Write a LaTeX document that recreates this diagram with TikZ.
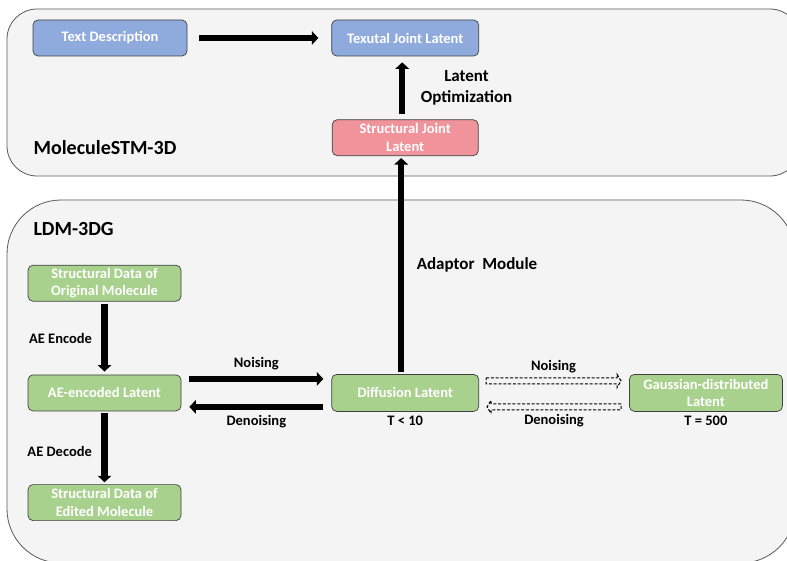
\documentclass[tikz,border=0pt]{standalone}
\usepackage{fontspec}
\setmainfont{Carlito}
\usetikzlibrary{arrows.meta,positioning,calc}
\definecolor{panelfill}{HTML}{F4F4F4}
\definecolor{paneldraw}{HTML}{595959}
\definecolor{nodeblue}{HTML}{8FAADC}
\definecolor{nodepink}{HTML}{F0939B}
\definecolor{nodegreen}{HTML}{A9D18E}
\definecolor{nodedraw}{HTML}{3F3F3F}

\begin{document}
\begin{tikzpicture}[x=1pt, y=-1pt, font=\bfseries\fontsize{14.5}{17.5}\selectfont,
panel/.style={draw=paneldraw, fill=panelfill, line width=0.8pt},
block/.style={draw=nodedraw, line width=0.7pt, rounded corners=5pt, minimum height=36pt, inner sep=1pt, text=white, align=center},
textbox/.style={block, fill=nodeblue, minimum width=147pt},
jointbox/.style={block, fill=nodepink, minimum width=146pt},
latbox/.style={block, fill=nodegreen, minimum width=153pt},
flow/.style={line width=6.5pt, -{Triangle[length=6.5pt,width=13.5pt]}},
hollow/.style={draw=black, line width=1.1pt, dash pattern=on 3pt off 1.8pt},
title/.style={font=\bfseries\fontsize{20}{23}\selectfont, anchor=west},
bigtag/.style={font=\bfseries\fontsize{17}{20.5}\selectfont, align=center}]
\path[use as bounding box, clip] (0,0) rectangle (787,561);
% the two panels
\draw[panel, rounded corners=30pt] (7,9) rectangle (800,176);
\draw[panel, rounded corners=54pt] (7,200) rectangle (795,563);
\node[title] (stm) at (30,148) {MoleculeSTM-3D};
\node[title] (ldm) at (30,229) {LDM-3DG};
% MoleculeSTM-3D part
\node[textbox, minimum width=154pt] (txt) at (110,38) {Text Description};
\node[textbox, right=144pt of txt] (tjl) {Texutal Joint Latent};
\node[jointbox, below=63pt of tjl] (sjl) {Structural Joint\\Latent};
% LDM-3DG part
\node[latbox, below=218pt of sjl, minimum width=147pt, minimum height=37pt] (diff) {Diffusion Latent};
\node[latbox, left=150pt of diff] (ael) {AE-encoded Latent};
\node[latbox, above=73pt of ael] (orig) {Structural Data of\\Original Molecule};
\node[latbox, below=73pt of ael] (edit) {Structural Data of\\Edited Molecule};
\node[latbox, right=150pt of diff, minimum height=37pt] (gauss) {Gaussian-distributed\\Latent};
\node[below=1pt of diff] (tsmall) {T < 10};
\node[below=1pt of gauss] (tbig) {T = 500};
% thick arrows
\draw[flow, shorten <=12pt, shorten >=13pt] (txt) -- (tjl);
\draw[flow, shorten <=5pt, shorten >=6pt] ([xshift=-3pt]sjl.north) -- node[right=12pt, bigtag]{Latent\\Optimization} ([xshift=-3pt]sjl.north |- tjl.south);
\draw[flow, shorten <=2pt, shorten >=2pt] ([xshift=-4pt]diff.north) -- node[right=9pt, bigtag]{Adaptor\ \ Module} ([xshift=-4pt]diff.north |- sjl.south);
\draw[flow, shorten <=2pt, shorten >=3pt] (orig) -- node[left=6pt]{AE Encode} (ael);
\draw[flow, shorten <=2pt, shorten >=2pt] (ael) -- node[left=6pt, yshift=-4pt]{AE Decode} (edit);
\draw[flow, shorten <=8pt, shorten >=8pt] ([yshift=14pt]ael.east) -- node[above=2pt]{Noising} ([yshift=14pt]diff.west);
\draw[flow, shorten <=8pt, shorten >=8pt] ([yshift=-14pt]diff.west) -- node[below=2pt]{Denoising} ([yshift=-14pt]ael.east);
% dashed hollow arrows
\coordinate (na) at ($(diff.east)+(7,-12)$);
\coordinate (nb) at ($(gauss.west)+(-8,-12)$);
\coordinate (da) at ($(gauss.west)+(-8,14)$);
\coordinate (db) at ($(diff.east)+(8,14)$);
\draw[hollow] ($(na)+(0,-3)$) -- ($(nb)+(-4,-3)$) -- ($(nb)+(-4,-6.5)$) -- (nb) -- ($(nb)+(-4,6.5)$) -- ($(nb)+(-4,3)$) -- ($(na)+(0,3)$) -- cycle;
\draw[hollow] ($(da)+(0,-3)$) -- ($(db)+(4,-3)$) -- ($(db)+(4,-6.5)$) -- (db) -- ($(db)+(4,6.5)$) -- ($(db)+(4,3)$) -- ($(da)+(0,3)$) -- cycle;
\node[above=4pt] (nlab) at ($(na)!0.5!(nb)$) {Noising};
\node[below=4pt] (dlab) at ($(da)!0.5!(db)$) {Denoising};
\end{tikzpicture}
\end{document}
